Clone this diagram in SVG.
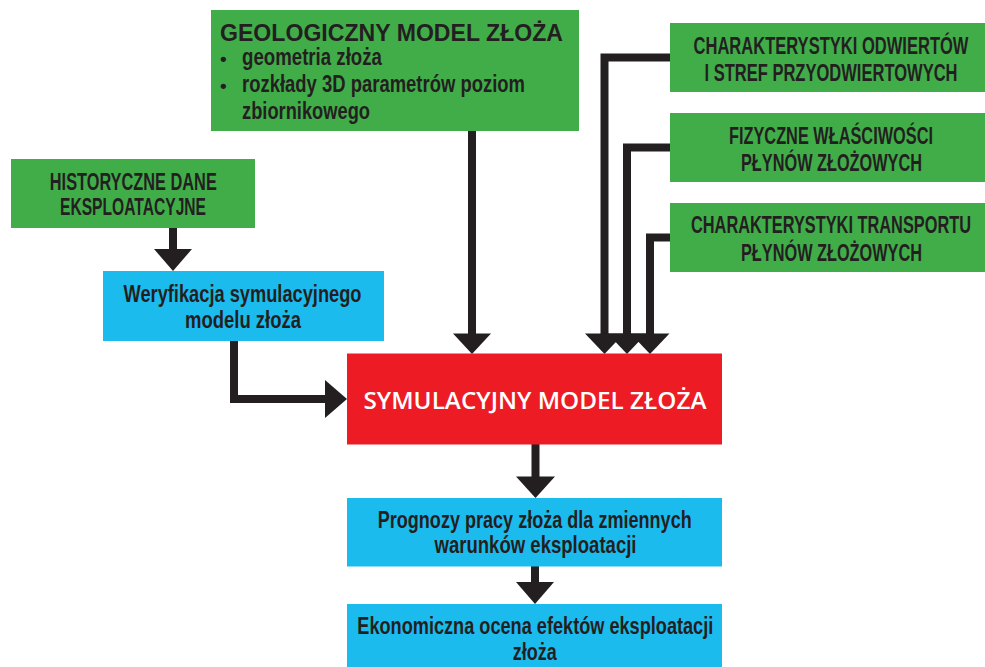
<svg xmlns="http://www.w3.org/2000/svg" width="985" height="667" viewBox="0 0 985 667">
  <style>
    .green { fill: #41ad49; }
    .blue { fill: #1cbbee; }
    .red { fill: #ed1c24; }
    .cond { font-family: "Liberation Sans", Arial, sans-serif; font-weight: bold; font-size: 24px; fill: #231f20; }
    .bullet { font-family: "Liberation Sans", Arial, sans-serif; font-weight: bold; font-size: 19px; fill: #231f20; }
    .title { font-family: "Liberation Sans", Arial, sans-serif; font-weight: bold; font-size: 23px; fill: #231f20; }
    .head { font-family: "Open Sans", "Liberation Sans", Arial, sans-serif; font-weight: 600; font-size: 23px; fill: #ffffff; }
    .mid { text-anchor: middle; }
    .link { fill: none; stroke: #231f20; stroke-width: 8; stroke-linejoin: miter; }
    .tip { fill: #231f20; }
  </style>

  <!-- connectors -->
  <g id="connectors">
    <path class="link" d="M472 131 V336"/>
    <polygon class="tip" points="453,333.5 491,333.5 472,354"/>

    <path class="link" d="M670 57.5 H604.5 V336"/>
    <path class="link" d="M670 147.5 H627 V336"/>
    <path class="link" d="M670 237.5 H650 V336"/>
    <polygon class="tip" points="585,333.5 624,333.5 604.5,354"/>
    <polygon class="tip" points="607.5,333.5 646.5,333.5 627,354"/>
    <polygon class="tip" points="630.5,333.5 669.5,333.5 650,354"/>

    <path class="link" d="M173 227 V252"/>
    <polygon class="tip" points="154,249 192,249 173,271"/>

    <path class="link" d="M234 340 V399 H328"/>
    <polygon class="tip" points="325,380 325,418 347,399"/>

    <path class="link" d="M535.5 444 V479"/>
    <polygon class="tip" points="516,476.5 555,476.5 535.5,498"/>

    <path class="link" d="M535 566 V585"/>
    <polygon class="tip" points="516,582 554,582 535,604"/>
  </g>

  <!-- condensed labels: glyphs narrowed with scale(0.72 1) -->
  <g id="geologiczny-model">
    <rect class="green" x="211" y="10" width="368" height="121"/>
    <text class="title" x="220" y="41" textLength="343" lengthAdjust="spacingAndGlyphs">GEOLOGICZNY MODEL ZŁOŻA</text>
    <text class="bullet" x="220" y="64.5">•</text>
    <text class="cond" transform="translate(242 0) scale(0.72 1)" x="0" y="65.5" textLength="194.4" lengthAdjust="spacingAndGlyphs">geometria złoża</text>
    <text class="bullet" x="220" y="91.5">•</text>
    <text class="cond" transform="translate(242 0) scale(0.72 1)" x="0" y="92.5" textLength="393.1" lengthAdjust="spacingAndGlyphs">rozkłady 3D parametrów poziom</text>
    <text class="cond" transform="translate(242 0) scale(0.72 1)" x="0" y="119" textLength="177.8" lengthAdjust="spacingAndGlyphs">zbiornikowego</text>
  </g>

  <g id="charakterystyki-odwiertow">
    <rect class="green" x="670" y="23" width="315" height="69"/>
    <text class="cond mid" transform="translate(831 0) scale(0.72 1)" x="0" y="54" textLength="381.9" lengthAdjust="spacingAndGlyphs">CHARAKTERYSTYKI ODWIERTÓW</text>
    <text class="cond mid" transform="translate(831 0) scale(0.72 1)" x="0" y="81" textLength="351.4" lengthAdjust="spacingAndGlyphs">I STREF PRZYODWIERTOWYCH</text>
  </g>

  <g id="fizyczne-wlasciwosci">
    <rect class="green" x="670" y="113" width="315" height="69"/>
    <text class="cond mid" transform="translate(831 0) scale(0.72 1)" x="0" y="144" textLength="283.3" lengthAdjust="spacingAndGlyphs">FIZYCZNE WŁAŚCIWOŚCI</text>
    <text class="cond mid" transform="translate(831.5 0) scale(0.72 1)" x="0" y="171.5" textLength="251.4" lengthAdjust="spacingAndGlyphs">PŁYNÓW ZŁOŻOWYCH</text>
  </g>

  <g id="charakterystyki-transportu">
    <rect class="green" x="670" y="203" width="315" height="69"/>
    <text class="cond mid" transform="translate(831 0) scale(0.72 1)" x="0" y="233.5" textLength="388.9" lengthAdjust="spacingAndGlyphs">CHARAKTERYSTYKI TRANSPORTU</text>
    <text class="cond mid" transform="translate(831.5 0) scale(0.72 1)" x="0" y="261.5" textLength="251.4" lengthAdjust="spacingAndGlyphs">PŁYNÓW ZŁOŻOWYCH</text>
  </g>

  <g id="historyczne-dane">
    <rect class="green" x="11" y="159" width="244" height="69"/>
    <text class="cond mid" transform="translate(133.3 0) scale(0.72 1)" x="0" y="190" textLength="231.9" lengthAdjust="spacingAndGlyphs">HISTORYCZNE DANE</text>
    <text class="cond mid" transform="translate(133 0) scale(0.72 1)" x="0" y="215" textLength="202.8" lengthAdjust="spacingAndGlyphs">EKSPLOATACYJNE</text>
  </g>

  <g id="weryfikacja">
    <rect class="blue" x="103" y="271" width="281" height="70"/>
    <text class="cond mid" transform="translate(242.5 0) scale(0.72 1)" x="0" y="302.5" textLength="330.6" lengthAdjust="spacingAndGlyphs">Weryfikacja symulacyjnego</text>
    <text class="cond mid" transform="translate(243 0) scale(0.72 1)" x="0" y="328.3" textLength="161.1" lengthAdjust="spacingAndGlyphs">modelu złoża</text>
  </g>

  <g id="symulacyjny-model">
    <rect class="red" x="347" y="353.5" width="375" height="91"/>
    <text class="head mid" x="535" y="409" textLength="343" lengthAdjust="spacingAndGlyphs">SYMULACYJNY MODEL ZŁOŻA</text>
  </g>

  <g id="prognozy">
    <rect class="blue" x="347" y="498" width="375" height="68.5"/>
    <text class="cond mid" transform="translate(534.7 0) scale(0.72 1)" x="0" y="528.3" textLength="436.1" lengthAdjust="spacingAndGlyphs">Prognozy pracy złoża dla zmiennych</text>
    <text class="cond mid" transform="translate(535.5 0) scale(0.72 1)" x="0" y="553.3" textLength="280.6" lengthAdjust="spacingAndGlyphs">warunków eksploatacji</text>
  </g>

  <g id="ocena-ekonomiczna">
    <rect class="blue" x="347" y="604" width="375" height="63"/>
    <text class="cond mid" transform="translate(535.3 0) scale(0.72 1)" x="0" y="634" textLength="494.4" lengthAdjust="spacingAndGlyphs">Ekonomiczna ocena efektów eksploatacji</text>
    <text class="cond mid" transform="translate(534.7 0) scale(0.72 1)" x="0" y="660" textLength="61.1" lengthAdjust="spacingAndGlyphs">złoża</text>
  </g>
</svg>
